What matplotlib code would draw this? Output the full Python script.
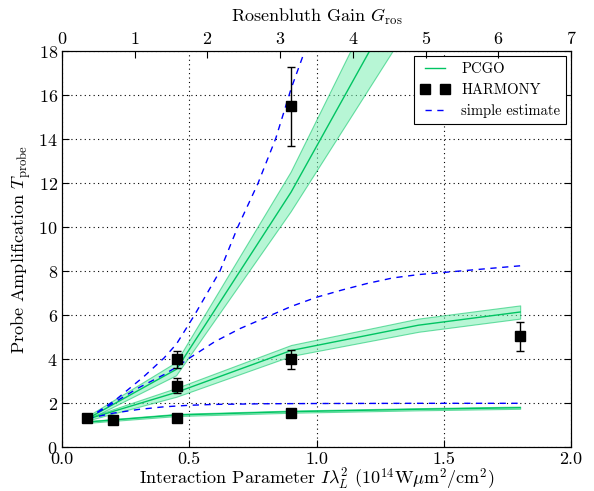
import numpy as np
import matplotlib
matplotlib.use("Agg")
import matplotlib.pyplot as plt

plt.rcParams["font.family"] = "serif"
plt.rcParams["font.serif"] = ["cmr10", "DejaVu Serif"]
plt.rcParams["mathtext.fontset"] = "cm"
plt.rcParams["axes.formatter.use_mathtext"] = True
plt.rcParams["font.size"] = 13

# PCGO simulations (three cases), centre line and band half-width
pcgo_x = [0.1, 0.45, 0.9, 1.4, 1.8]
pcgo_hi = [1.3, 3.55, 11.6, 22.0, 30.0]
pcgo_hi_err = [0.08, 0.3, 0.9, 2.2, 3.0]
pcgo_mid = [1.28, 2.5, 4.4, 5.55, 6.15]
pcgo_mid_err = [0.06, 0.2, 0.25, 0.3, 0.3]
pcgo_lo = [1.15, 1.47, 1.62, 1.73, 1.8]
pcgo_lo_err = [0.04, 0.05, 0.05, 0.05, 0.05]

# HARMONY points
harm_x = [0.1, 0.2, 0.45, 0.45, 0.45, 0.9, 0.9, 0.9, 1.8]
harm_y = [1.33, 1.24, 1.35, 2.8, 4.0, 1.55, 4.0, 15.5, 5.05]
harm_err = [0.0, 0.0, 0.0, 0.33, 0.4, 0.0, 0.42, 1.8, 0.65]

# simple estimate curves
est_hi_x = [0.1, 0.21, 0.32, 0.4, 0.45, 0.52, 0.62, 0.69, 0.77, 0.84, 0.9, 0.95, 0.97]
est_hi_y = [1.3, 2.15, 3.2, 4.05, 4.7, 6.0, 8.0, 10.0, 12.0, 14.05, 16.3, 17.9, 18.6]
est_mid_x = [0.1, 0.2, 0.3, 0.4, 0.45, 0.5, 0.6, 0.7, 0.8, 0.9, 1.0, 1.1, 1.2, 1.3,
             1.4, 1.5, 1.6, 1.7, 1.8]
est_mid_y = [1.3, 2.0, 2.7, 3.3, 3.65, 4.05, 4.8, 5.4, 5.9, 6.4, 6.82, 7.15, 7.45, 7.7,
             7.85, 7.95, 8.05, 8.15, 8.25]
est_lo_x = [0.1, 0.2, 0.3, 0.4, 0.5, 0.6, 0.8, 1.0, 1.4, 1.8]
est_lo_y = [1.3, 1.55, 1.72, 1.84, 1.91, 1.95, 1.98, 1.99, 2.0, 2.0]

green = "#00c462"
band = "#7df0b4"
dash = (0, (4.5, 4))

fig = plt.figure(figsize=(5.94, 4.91), dpi=100)
ax = fig.add_axes([0.1044, 0.089, 0.857, 0.8065])

for yv, ev in [(pcgo_hi, pcgo_hi_err), (pcgo_mid, pcgo_mid_err), (pcgo_lo, pcgo_lo_err)]:
    yv = np.array(yv)
    ev = np.array(ev)
    ax.fill_between(pcgo_x, yv - ev, yv + ev, facecolor=band, edgecolor=green,
                    alpha=0.55, linewidth=0.8, zorder=2)
ax.plot(pcgo_x, pcgo_hi, color=green, lw=1.0, zorder=3, label="PCGO")
ax.plot(pcgo_x, pcgo_mid, color=green, lw=1.0, zorder=3)
ax.plot(pcgo_x, pcgo_lo, color=green, lw=1.0, zorder=3)

ax.errorbar(harm_x, harm_y, yerr=harm_err, fmt="none", ecolor="black",
            elinewidth=1.0, capsize=3, zorder=5)
ax.plot(harm_x, harm_y, "s", color="black", ms=6.5, zorder=6, label="HARMONY")

ax.plot(est_hi_x, est_hi_y, color="blue", ls=dash, lw=1.0, zorder=4, label="simple estimate")
ax.plot(est_mid_x, est_mid_y, color="blue", ls=dash, lw=1.0, zorder=4)
ax.plot(est_lo_x, est_lo_y, color="blue", ls=dash, lw=1.0, zorder=4)

ax.set_xlim(0, 2.0)
ax.set_ylim(0, 18)
ax.set_xticks(np.arange(0, 2.01, 0.5))
ax.set_yticks(np.arange(0, 19, 2))
ax.xaxis.set_major_formatter(matplotlib.ticker.FormatStrFormatter("%.1f"))
ax.grid(True, color="black", linestyle=(0, (1, 3)), linewidth=0.8)
ax.tick_params(direction="in", top=False, right=True, length=5, pad=3)
ax.set_xlabel(r"Interaction Parameter $I\lambda_L^2$ $(10^{14}\mathrm{W}\mu\mathrm{m}^2/\mathrm{cm}^2)$",
              labelpad=0)
ax.set_ylabel(r"Probe Amplification $T_\mathrm{probe}$", labelpad=4)

ax2 = ax.twiny()
ax2.set_xlim(0, 7)
ax2.set_xticks(range(0, 8))
ax2.tick_params(direction="in", length=5, pad=3)
ax2.set_xlabel(r"Rosenbluth Gain $G_\mathrm{ros}$", labelpad=6)

leg = ax.legend(loc="upper right", numpoints=2, fontsize=10.5, fancybox=False,
                framealpha=1, edgecolor="black", handlelength=2.0,
                borderaxespad=0.35)
leg.get_frame().set_linewidth(0.8)

fig.savefig("out.png", dpi=100)
